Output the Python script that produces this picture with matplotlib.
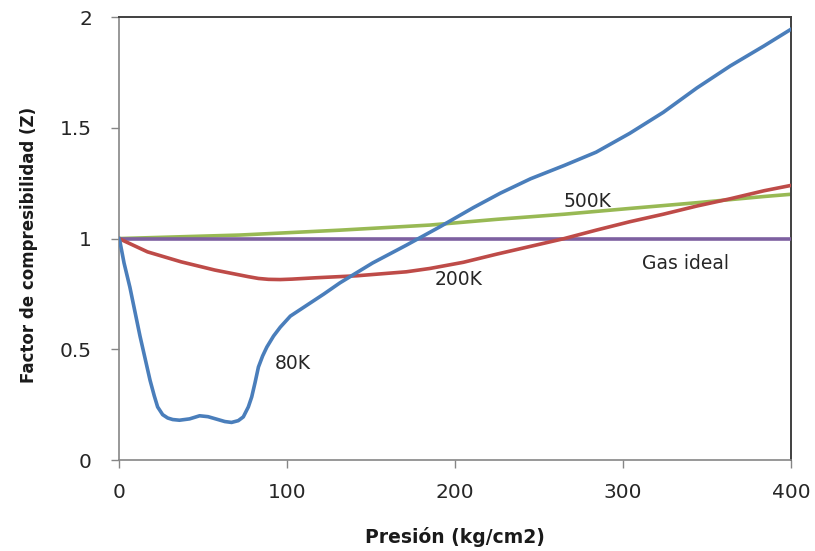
import matplotlib
matplotlib.use("Agg")
import matplotlib.pyplot as plt

# Compressibility factor Z versus pressure (kg/cm2) for several temperatures
p_80k = [0, 0.6, 3, 6.5, 9.5, 12.5, 15.5, 18.5, 21, 23, 26, 29, 32, 36, 42, 48, 53,
         58, 63, 67, 71, 74, 77, 79, 81, 83, 85.5, 88, 92, 96, 102, 112, 122, 131.5,
         151, 171, 191, 211, 227, 245, 265, 284, 304, 324, 344, 364, 384, 400]
z_80k = [1.0, 0.985, 0.89, 0.78, 0.67, 0.56, 0.46, 0.36, 0.29, 0.24, 0.205, 0.19,
         0.183, 0.18, 0.186, 0.20, 0.196, 0.185, 0.174, 0.17, 0.178, 0.195, 0.24,
         0.285, 0.35, 0.42, 0.47, 0.51, 0.56, 0.60, 0.65, 0.70, 0.75, 0.80, 0.89,
         0.97, 1.053, 1.14, 1.205, 1.27, 1.33, 1.39, 1.475, 1.57, 1.68, 1.78, 1.87,
         1.945]

p_200k = [0, 17, 37, 57, 77, 83, 89, 96, 103, 117, 141.5, 171, 185, 205, 225, 245,
          265, 284, 304, 324, 344, 364, 384, 400]
z_200k = [1.0, 0.94, 0.895, 0.858, 0.828, 0.82, 0.816, 0.815, 0.817, 0.823, 0.832,
          0.85, 0.865, 0.893, 0.93, 0.965, 1.0, 1.038, 1.076, 1.11, 1.147, 1.18,
          1.216, 1.24]

p_500k = [0, 72, 131.5, 185, 225, 265, 304, 344, 384, 400]
z_500k = [1.0, 1.016, 1.038, 1.061, 1.087, 1.11, 1.136, 1.162, 1.19, 1.20]

p_ideal = [0, 400]
z_ideal = [1.0, 1.0]

x_ticks = [0, 100, 200, 300, 400]
y_ticks = [0, 0.5, 1, 1.5, 2]
y_tick_labels = ["0", "0.5", "1", "1.5", "2"]

plt.rcParams["font.family"] = ["DejaVu Sans"]

fig = plt.figure(figsize=(8.15, 5.51), dpi=100)
ax = fig.add_axes([0.146, 0.165, 0.8245, 0.804])

lw = 2.6
ax.plot(p_500k, z_500k, color="#98B954", lw=lw, solid_joinstyle="round", zorder=2)
ax.plot(p_ideal, z_ideal, color="#7D60A0", lw=lw, zorder=3)
ax.plot(p_200k, z_200k, color="#BE4B48", lw=lw, solid_joinstyle="round", zorder=4)
ax.plot(p_80k, z_80k, color="#4A7EBB", lw=lw, solid_joinstyle="round", zorder=5)

ax.set_xlim(0, 400)
ax.set_ylim(0, 2)
ax.set_xticks(x_ticks)
ax.set_yticks(y_ticks)
ax.set_yticklabels(y_tick_labels)

ax.tick_params(direction="out", length=5.5, width=1, color="#868686",
               labelsize=14.5, labelcolor="#262626")
ax.tick_params(axis="x", pad=11)
ax.tick_params(axis="y", pad=14)

for side in ["left", "bottom"]:
    ax.spines[side].set_color("#868686")
    ax.spines[side].set_linewidth(1.2)
for side in ["top", "right"]:
    ax.spines[side].set_color("#404040")
    ax.spines[side].set_linewidth(1.4)

ax.set_xlabel("Presión (kg/cm2)", fontsize=13.5, fontweight="bold", color="#1a1a1a")
ax.xaxis.label.set_va("center")
ax.xaxis.set_label_coords(0.5, -0.174)
ax.set_ylabel("Factor de compresibilidad (Z)", fontsize=12, fontweight="bold",
              color="#1a1a1a")
ax.yaxis.label.set_va("center")
ax.yaxis.set_label_coords(-0.134, 0.485)

label_kw = dict(fontsize=13.5, color="#262626", ha="center", va="center", zorder=6)
ax.text(103.6, 0.438, "80K", **label_kw)
ax.text(279, 1.169, "500K", **label_kw)
ax.text(202, 0.817, "200K", **label_kw)
ax.text(337, 0.889, "Gas ideal", **label_kw)

fig.savefig("out.png", dpi=100)
